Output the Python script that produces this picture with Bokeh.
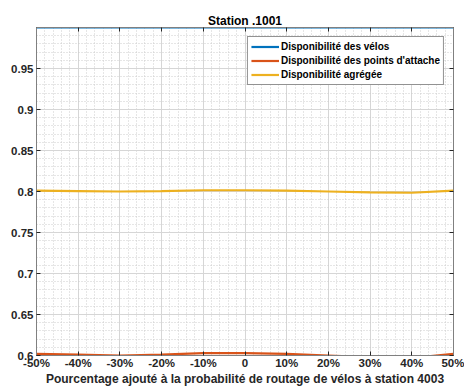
from bokeh.plotting import figure
from bokeh.models import Range1d, FixedTicker, LinearAxis, Legend, LegendItem
from bokeh.embed import file_html
from bokeh.resources import INLINE

# ---- data ----
x_pct = [-50, -40, -30, -20, -10, 0, 10, 20, 30, 40, 50]
dispo_velos = [1.0, 1.0, 1.0, 1.0, 1.0, 1.0, 1.0, 1.0, 1.0, 1.0, 1.0]
dispo_attache = [0.602, 0.601, 0.600, 0.601, 0.603, 0.603, 0.602, 0.600, 0.598, 0.597, 0.602]
dispo_agregee = [0.801, 0.8005, 0.800, 0.8005, 0.8015, 0.8015, 0.801, 0.800, 0.799, 0.7985, 0.801]

x_ticks = [-50, -40, -30, -20, -10, 0, 10, 20, 30, 40, 50]
x_tick_labels = ["-50%", "-40%", "-30%", "-20%", "-10%", "0", "10%", "20%", "30%", "40%", "50%"]
y_ticks = [0.6, 0.65, 0.7, 0.75, 0.8, 0.85, 0.9, 0.95]
y_tick_labels = ["0.6", "0.65", "0.7", "0.75", "0.8", "0.85", "0.9", "0.95"]

title_text = "Station .1001"
x_label = "Pourcentage ajouté à la probabilité de routage de vélos à station 4003"
series_names = ["Disponibilité des vélos", "Disponibilité des points d'attache", "Disponibilité agrégée"]
colors = ["#0072BD", "#D95319", "#EDB120"]

FONT = "Liberation Sans"
AXIS_GRAY = "#808080"

p = figure(width=464, height=392, x_range=Range1d(-50, 50), y_range=Range1d(0.6, 1.0),
           output_backend="svg", toolbar_location=None, title=title_text,
           min_border_left=36, min_border_right=11, min_border_top=27, min_border_bottom=37,
           background_fill_color="white", border_fill_color="white")

p.title.align = "center"
p.title.text_font = FONT
p.title.text_font_size = "12px"
p.title.text_font_style = "bold"
p.title.text_color = "#000000"
p.title.offset = 0
p.title.standoff = 0

p.outline_line_color = AXIS_GRAY
p.outline_line_width = 1

def style_axis(ax):
    ax.axis_line_color = AXIS_GRAY
    ax.major_tick_line_color = "#262626"
    ax.major_tick_in = 4
    ax.major_tick_out = 0
    ax.minor_tick_in = 0
    ax.minor_tick_out = 0
    ax.major_label_text_font = FONT
    ax.major_label_text_font_style = "bold"
    ax.major_label_text_color = "#262626"
    ax.major_label_text_font_size = "11.5px"
    ax.major_label_standoff = 3

xa = p.xaxis[0]
xa.ticker = FixedTicker(ticks=x_ticks, minor_ticks=list(range(-50, 51, 2)))
xa.major_label_overrides = {t: l for t, l in zip(x_ticks, x_tick_labels)}
style_axis(xa)
xa.major_label_standoff = 1
xa.axis_label = x_label
xa.axis_label_text_font = FONT
xa.axis_label_text_font_size = "12px"
xa.axis_label_text_font_style = "bold"
xa.axis_label_text_color = "#262626"
xa.axis_label_standoff = 0

ya = p.yaxis[0]
ya.ticker = FixedTicker(ticks=y_ticks, minor_ticks=[round(0.6 + 0.01 * i, 2) for i in range(41)])
ya.major_label_overrides = {t: l for t, l in zip(y_ticks, y_tick_labels)}
style_axis(ya)

# box ticks on top and right (no visible labels)
top = LinearAxis(ticker=FixedTicker(ticks=x_ticks))
style_axis(top)
top.major_label_standoff = 0
top.major_label_text_font_size = "1px"
top.major_label_text_alpha = 0
p.add_layout(top, "above")
right = LinearAxis(ticker=FixedTicker(ticks=y_ticks))
style_axis(right)
right.major_label_standoff = 0
right.major_label_text_font_size = "1px"
right.major_label_text_alpha = 0
p.add_layout(right, "right")

for g in (p.xgrid[0], p.ygrid[0]):
    g.grid_line_color = "#d6d6d6"
    g.grid_line_width = 1
    g.minor_grid_line_color = "#cccccc"
    g.minor_grid_line_dash = "1 2"
    g.minor_grid_line_width = 1
p.xgrid[0].ticker = xa.ticker
p.ygrid[0].ticker = ya.ticker

r1 = p.line(x_pct, dispo_velos, line_width=2.2, color=colors[0])
r2 = p.line(x_pct, dispo_attache, line_width=2.2, color=colors[1])
r3 = p.line(x_pct, dispo_agregee, line_width=2.2, color=colors[2])

legend = Legend(items=[LegendItem(label=series_names[0], renderers=[r1]),
                       LegendItem(label=series_names[1], renderers=[r2]),
                       LegendItem(label=series_names[2], renderers=[r3])],
                location="top_right")
legend.label_text_font = FONT
legend.label_text_font_size = "10px"
legend.label_text_font_style = "bold"
legend.label_text_color = "#000000"
legend.border_line_color = "#262626"
legend.border_line_width = 1
legend.background_fill_alpha = 1.0
legend.margin = 9
legend.padding = 3
legend.spacing = 1
legend.label_height = 13
legend.glyph_height = 13
legend.glyph_width = 28
legend.label_standoff = 2
p.add_layout(legend)

open("out.html", "w").write(file_html(p, INLINE))
